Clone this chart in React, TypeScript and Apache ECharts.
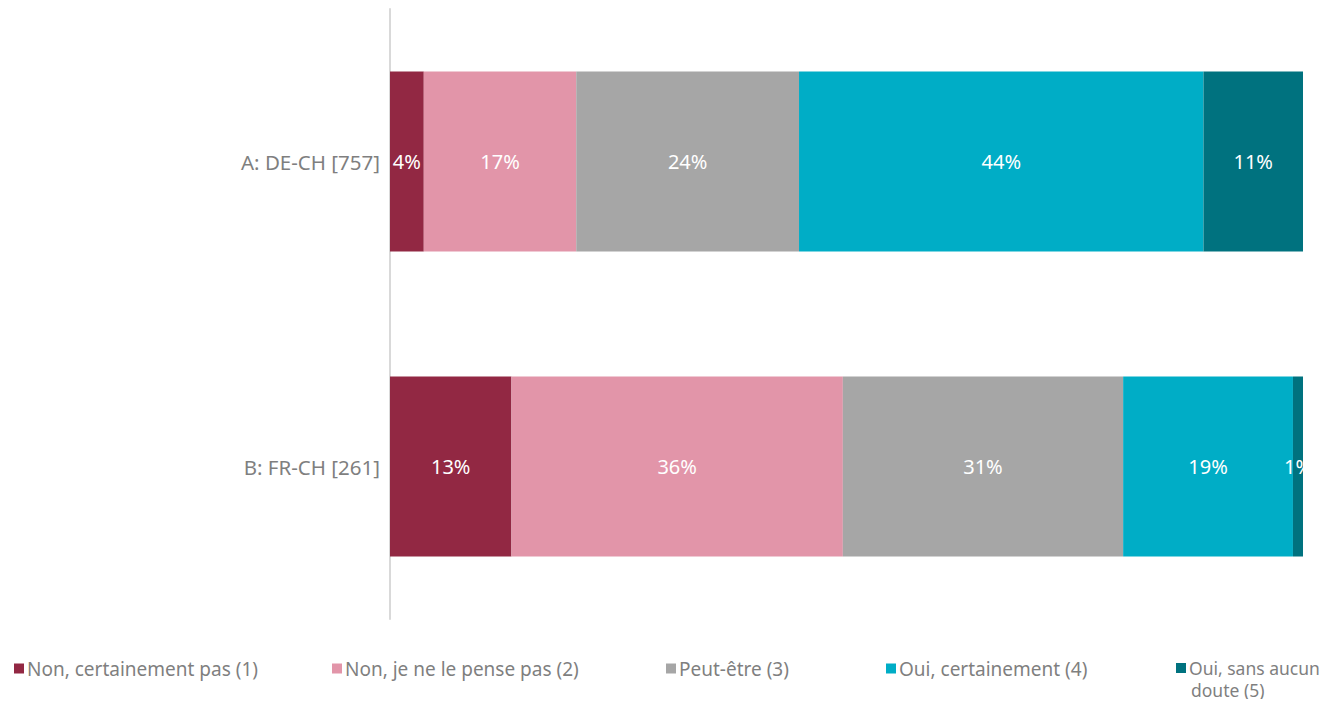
import React, { useEffect, useRef } from "react";
import * as echarts from "echarts";

const categories = ["A: DE-CH [757]", "B: FR-CH [261]"];
const seriesNames = [
  "Non, certainement pas (1)",
  "Non, je ne le pense pas (2)",
  "Peut-être (3)",
  "Oui, certainement (4)",
  "Oui, sans aucun doute (5)",
];
const legendFirstLines = [
  "Non, certainement pas (1)",
  "Non, je ne le pense pas (2)",
  "Peut-être (3)",
  "Oui, certainement (4)",
  "Oui, sans aucun",
];
const legendSecondLine = "doute (5)";
const s1 = [3.7, 13.3];
const s2 = [16.7, 36.3];
const s3 = [24.4, 30.7];
const s4 = [44.3, 18.6];
const s5 = [10.9, 1.1];
const colors = ["#922843", "#E295A9", "#A6A6A6", "#00ADC6", "#00727F"];
const legendLeft = [14, 332, 666, 886, 1176];

const FONT = "'Noto Sans', sans-serif";

export default function App() {
  const ref = useRef<HTMLDivElement>(null);
  useEffect(() => {
    if (!ref.current) return;
    const chart = echarts.init(ref.current, null, { renderer: "svg" });
    const values = [s1, s2, s3, s4, s5];
    chart.setOption({
      animation: false,
      textStyle: { fontFamily: FONT },
      grid: { left: 390, right: 33, top: 9, bottom: 88, containLabel: false },
      xAxis: {
        type: "value",
        min: 0,
        max: 100,
        show: false,
      },
      yAxis: {
        type: "category",
        data: categories,
        inverse: true,
        axisLine: { show: true, lineStyle: { color: "#D9D9D9", width: 2 } },
        axisTick: { show: false },
        axisLabel: { color: "#7F7F7F", fontSize: 20.5, margin: 10, fontFamily: FONT },
      },
      legend: seriesNames.map((name, i) => ({
        data: [name],
        left: legendLeft[i],
        top: 659,
        itemWidth: 10,
        itemHeight: 10,
        itemGap: 0,
        icon: "rect",
        padding: 0,
        align: "left",
        textStyle: {
          color: "#7F7F7F",
          fontSize: i === 4 ? 17.5 : 19,
          fontFamily: FONT,
          padding: [0, 0, 0, -2],
        },
        formatter: () => legendFirstLines[i],
        selectedMode: false,
      })),
      graphic: [
        {
          type: "text",
          left: 1191,
          top: 681,
          style: { text: legendSecondLine, fill: "#7F7F7F", font: `17.5px ${FONT}` },
        },
      ],
      series: seriesNames.map((name, i) => ({
        name,
        type: "bar",
        stack: "total",
        data: values[i],
        barCategoryGap: "41%",
        itemStyle: { color: colors[i] },
        label: {
          show: true,
          position: "inside",
          color: "#FFFFFF",
          fontSize: 20,
          fontFamily: FONT,
          formatter: (p: any) => `${Math.round(p.value)}%`,
        },
      })),
    });
    return () => chart.dispose();
  }, []);
  return <div ref={ref} style={{ width: 1336, height: 707, margin: -8 }} />;
}
